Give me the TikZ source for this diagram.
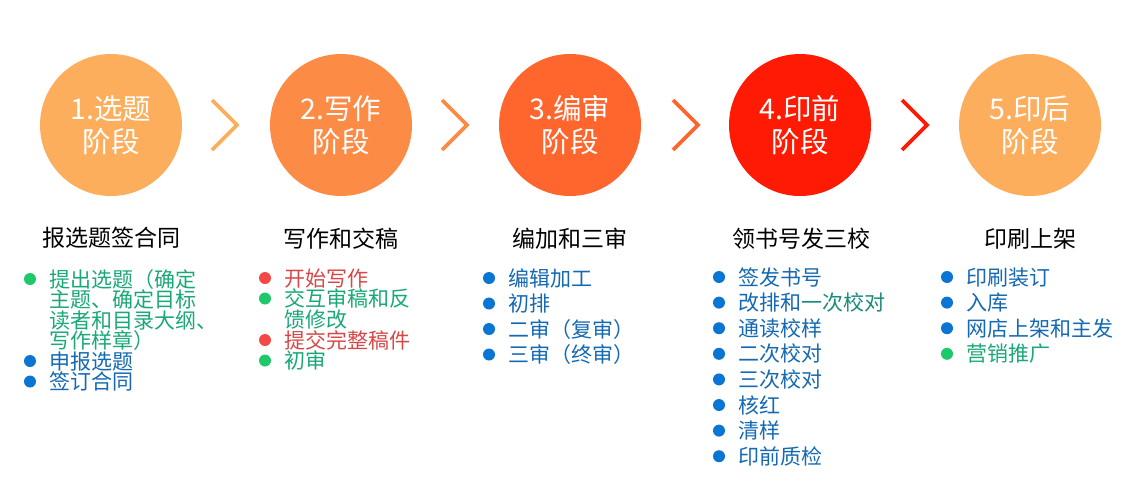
\documentclass[tikz,border=0pt]{standalone}
\usepackage{fontspec}
\setmainfont{Noto Sans CJK SC}
\definecolor{cA}{HTML}{FDAE5C}
\definecolor{cB}{HTML}{FC8C45}
\definecolor{cC}{HTML}{FF662E}
\definecolor{cD}{HTML}{FF1A04}
\definecolor{tg}{HTML}{1AA876}
\definecolor{tb}{HTML}{1469B2}
\definecolor{tr}{HTML}{D64848}
\definecolor{tt}{HTML}{1A8A7C}
\definecolor{dg}{HTML}{1DC96A}
\definecolor{db}{HTML}{0A75D2}
\definecolor{dr}{HTML}{F44848}
\tikzset{
  stage/.style={circle, inner sep=0pt, minimum size=142pt, text=white, align=center,
    font=\fontsize{28.5}{33}\selectfont},
  chev/.style={line width=3.8pt, line cap=butt, line join=miter},
  head/.style={inner sep=0pt, font=\fontsize{23}{23}\selectfont, text height=20.2pt, text depth=2.8pt},
  itm/.style={anchor=west, inner sep=0pt, font=\fontsize{21}{21}\selectfont, text height=18.5pt, text depth=2.5pt},
  dot/.style={circle, inner sep=0pt, minimum size=12pt}
}
\begin{document}
\begin{tikzpicture}[x=1pt,y=-1pt]
\useasboundingbox (0,0) rectangle (1126,493);
% stages
\node[stage, fill=cA] (c1) at (111,125) {1.选题\\阶段};
\node[stage, fill=cB] (c2) at (341,125) {2.写作\\阶段};
\node[stage, fill=cC] (c3) at (570,125) {3.编审\\阶段};
\node[stage, fill=cD] (c4) at (800,125) {4.印前\\阶段};
\node[stage, fill=cA] (c5) at (1030,125) {5.印后\\阶段};
% chevrons
\draw[chev, cA] (212,100) -- (237,125) -- (212,150);
\draw[chev, cB] (442,100) -- (467,125) -- (442,150);
\draw[chev, cC] (673,100) -- (698,125) -- (673,150);
\draw[chev, cD] (902,100) -- (927,125) -- (902,150);
% headings
\node[head] (h1) at (111,238) {报选题签合同};
\node[head] (h2) at (341,239) {写作和交稿};
\node[head] (h3) at (570,239) {编加和三审};
\node[head] (h4) at (801,239) {领书号发三校};
\node[head] (h5) at (1030,239) {印刷上架};
% list 1
\node[dot, fill=dg] (d11) at (30,279) {};
\node[itm, text=tg] (a11) at (49,279) {提出选题（确定};
\node[itm, text=tg] (a12) at (49,299.5) {主题、确定目标};
\node[itm, text=tg] (a13) at (49,320) {读者和目录大纲、};
\node[itm, text=tg] (a14) at (49,340.5) {写作样章）};
\node[dot, fill=db] (d12) at (30,361) {};
\node[itm, text=tb] (a15) at (49,361) {申报选题};
\node[dot, fill=db] (d13) at (30,381.5) {};
\node[itm, text=tb] (a16) at (49,381.5) {签订合同};
% list 2
\node[dot, fill=dr] (d21) at (265,278) {};
\node[itm, text=tr] (b1) at (284,278) {开始写作};
\node[dot, fill=dg] (d22) at (265,298.5) {};
\node[itm, text=tg] (b2) at (284,298.5) {交互审稿和反};
\node[itm, text=tg] (b3) at (284,319) {馈修改};
\node[dot, fill=dr] (d23) at (265,340) {};
\node[itm, text=tr] (b4) at (284,340) {提交完整稿件};
\node[dot, fill=dg] (d24) at (265,360.5) {};
\node[itm, text=tg] (b5) at (284,360.5) {初审};
% list 3
\node[dot, fill=db] (d31) at (489,278) {};
\node[itm, text=tb] (e1) at (508,278) {编辑加工};
\node[dot, fill=db] (d32) at (489,303.5) {};
\node[itm, text=tb] (e2) at (508,303.5) {初排};
\node[dot, fill=db] (d33) at (489,329) {};
\node[itm, text=tb] (e3) at (508,329) {二审（复审）};
\node[dot, fill=db] (d34) at (489,354.5) {};
\node[itm, text=tb] (e4) at (508,354.5) {三审（终审）};
% list 4
\node[dot, fill=db] (d41) at (719,277) {};
\node[itm, text=tb] (f1) at (738,277) {签发书号};
\node[dot, fill=db] (d42) at (719,302.6) {};
\node[itm, text=tb] (f2) at (738,302.6) {改排和\textcolor{tt}{一次校对}};
\node[dot, fill=db] (d43) at (719,328.2) {};
\node[itm, text=tb] (f3) at (738,328.2) {通读校样};
\node[dot, fill=db] (d44) at (719,353.8) {};
\node[itm, text=tb] (f4) at (738,353.8) {二次校对};
\node[dot, fill=db] (d45) at (719,379.4) {};
\node[itm, text=tb] (f5) at (738,379.4) {三次校对};
\node[dot, fill=db] (d46) at (719,405) {};
\node[itm, text=tb] (f6) at (738,405) {核红};
\node[dot, fill=db] (d47) at (719,430.6) {};
\node[itm, text=tb] (f7) at (738,430.6) {清样};
\node[dot, fill=db] (d48) at (719,456.2) {};
\node[itm, text=tb] (f8) at (738,456.2) {印前质检};
% list 5
\node[dot, fill=db] (d51) at (947,277) {};
\node[itm, text=tb] (g1) at (966,277) {印刷装订};
\node[dot, fill=db] (d52) at (947,302.6) {};
\node[itm, text=tb] (g2) at (966,302.6) {入库};
\node[dot, fill=db] (d53) at (947,328.2) {};
\node[itm, text=tb] (g3) at (966,328.2) {网店上架和主发};
\node[dot, fill=dg] (d54) at (947,353.8) {};
\node[itm, text=tg] (g4) at (966,353.8) {营销推广};
\end{tikzpicture}
\end{document}
